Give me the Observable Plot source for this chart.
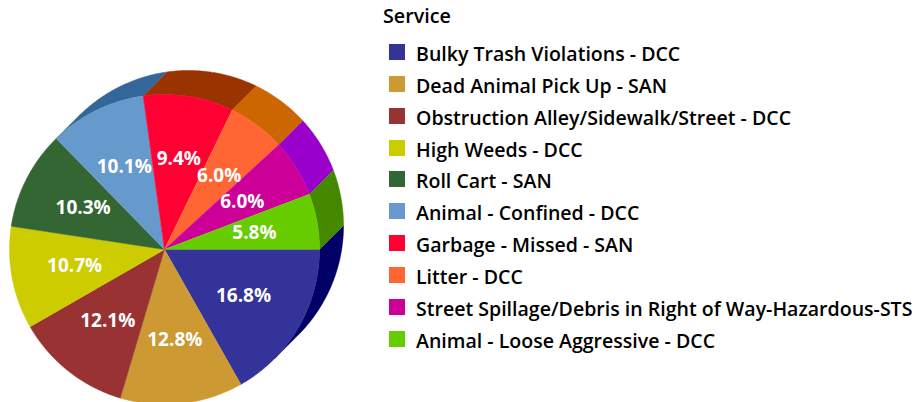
<!DOCTYPE html>
<html>
<head>
<meta charset="utf-8">
<script src="https://cdn.jsdelivr.net/npm/d3@7"></script>
<script src="https://cdn.jsdelivr.net/npm/@observablehq/plot@0.6"></script>
<style>
  html, body { margin: 0; padding: 0; background: #ffffff; }
  #wrap { position: relative; width: 923px; height: 402px; overflow: hidden; font-family: "Open Sans", sans-serif; color: #000; }
  #pie { position: absolute; left: 0; top: 0; }
  #legend { position: absolute; left: 383px; top: 0; width: 540px; height: 402px; }
  .ltitle { position: absolute; left: 0; top: 0; height: 32px; line-height: 32px; font-weight: 600; white-space: nowrap; }
  .row { position: absolute; left: 0; height: 32px; display: flex; align-items: center; white-space: nowrap; }
  .sw { display: inline-block; width: 16px; height: 16px; margin-left: 6px; margin-right: 11px; flex: none; }
  .lt { line-height: 32px; position: relative; top: 2px; font-weight: 600; }
</style>
</head>
<body>
<div id="wrap">
  <div id="pie"></div>
  <div id="legend"></div>
</div>
<script>
// ---------------- data ----------------
const legendTitle = "Service";
const services = [
  "Bulky Trash Violations - DCC",
  "Dead Animal Pick Up - SAN",
  "Obstruction Alley/Sidewalk/Street - DCC",
  "High Weeds - DCC",
  "Roll Cart - SAN",
  "Animal - Confined - DCC",
  "Garbage - Missed - SAN",
  "Litter - DCC",
  "Street Spillage/Debris in Right of Way-Hazardous-STS",
  "Animal - Loose Aggressive - DCC"
];
const shares = [16.8, 12.8, 12.1, 10.7, 10.3, 10.1, 9.4, 6.0, 6.0, 5.8];
const faceColors = ["#333399", "#CC9933", "#993333", "#CCCC00", "#336633", "#6699CC", "#FF0033", "#FF6633", "#CC0099", "#66CC00"];
const sideColors = ["#000066", "#996600", "#660000", "#999900", "#003300", "#336699", "#993300", "#CC6600", "#9900CC", "#448800"];
const sliceLabels = shares.map(v => v.toFixed(1) + "%");

// ---------------- geometry (unit circle, angles clockwise from east) ----------------
const total = d3.sum(shares);
let acc = 0;
const slices = shares.map((v, i) => {
  const a0 = acc / total * 2 * Math.PI;
  acc += v;
  const a1 = acc / total * 2 * Math.PI;
  return {i, a0, a1};
});
const depth = [0.155, 0.155];           // extrusion offset (up-right), in radius units
const labelRadius = 0.59;
const step = Math.PI / 360;

function arcPts(a0, a1, dx, dy) {
  const n = Math.max(2, Math.ceil((a1 - a0) / step));
  return d3.range(n + 1).map(k => {
    const a = a0 + (a1 - a0) * k / n;
    return [Math.cos(a) + dx, -Math.sin(a) + dy];
  });
}

// front faces
const facePts = [];
slices.forEach(s => {
  [[0, 0], ...arcPts(s.a0, s.a1, 0, 0)].forEach(([x, y]) =>
    facePts.push({key: "f" + s.i, x, y, color: faceColors[s.i]}));
});

// visible side walls (front-facing part of the rim)
const visible = [[0, Math.PI / 4], [5 * Math.PI / 4, 2 * Math.PI]];
const wallPts = [];
slices.forEach(s => {
  visible.forEach(([v0, v1], j) => {
    const b0 = Math.max(s.a0, v0), b1 = Math.min(s.a1, v1);
    if (b1 - b0 > 1e-6) {
      const front = arcPts(b0, b1, 0, 0);
      const back = arcPts(b0, b1, depth[0], depth[1]).reverse();
      [...front, ...back].forEach(([x, y]) =>
        wallPts.push({key: "w" + s.i + "-" + j, x, y, color: sideColors[s.i]}));
    }
  });
});

const labelData = slices.map(s => {
  const m = (s.a0 + s.a1) / 2;
  return {x: labelRadius * Math.cos(m), y: -labelRadius * Math.sin(m), text: sliceLabels[s.i]};
});

// ---------------- plot ----------------
const W = 370, H = 402, R = 155, cx = 164, cy = 249;
const chart = Plot.plot({
  width: W,
  height: H,
  margin: 0,
  x: {domain: [-cx / R, (W - cx) / R], axis: null},
  y: {domain: [-(H - cy) / R, cy / R], axis: null},
  color: {type: "identity"},
  style: {fontFamily: '"Open Sans", sans-serif', background: "transparent", overflow: "hidden"},
  marks: [
    Plot.line(wallPts, {x: "x", y: "y", z: "key", fill: "color", stroke: "color", strokeWidth: 0.5}),
    Plot.line(facePts, {x: "x", y: "y", z: "key", fill: "color", stroke: "color", strokeWidth: 0.5}),
    Plot.text(labelData, {x: "x", y: "y", text: "text", fill: "white", fontSize: 19, fontWeight: "bold"})
  ]
});
document.getElementById("pie").appendChild(chart);

// ---------------- legend ----------------
function fitSize(text, weight, target) {
  const ctx = document.createElement("canvas").getContext("2d");
  ctx.font = `${weight} 100px "Open Sans", sans-serif`;
  return 100 * target / ctx.measureText(text).width;
}
const itemSize = (fitSize(services[8], 600, 490) + fitSize(services[0], 600, 268)) / 2;
const titleSize = fitSize(legendTitle, 600, 68);

const legend = d3.select("#legend");
legend.append("div").attr("class", "ltitle").style("font-size", titleSize + "px").text(legendTitle);
services.forEach((s, i) => {
  const row = legend.append("div").attr("class", "row").style("top", (36 + i * 31.85) + "px");
  row.append("span").attr("class", "sw").style("background", faceColors[i]);
  row.append("span").attr("class", "lt").style("font-size", itemSize + "px").text(s);
});
</script>
</body>
</html>
